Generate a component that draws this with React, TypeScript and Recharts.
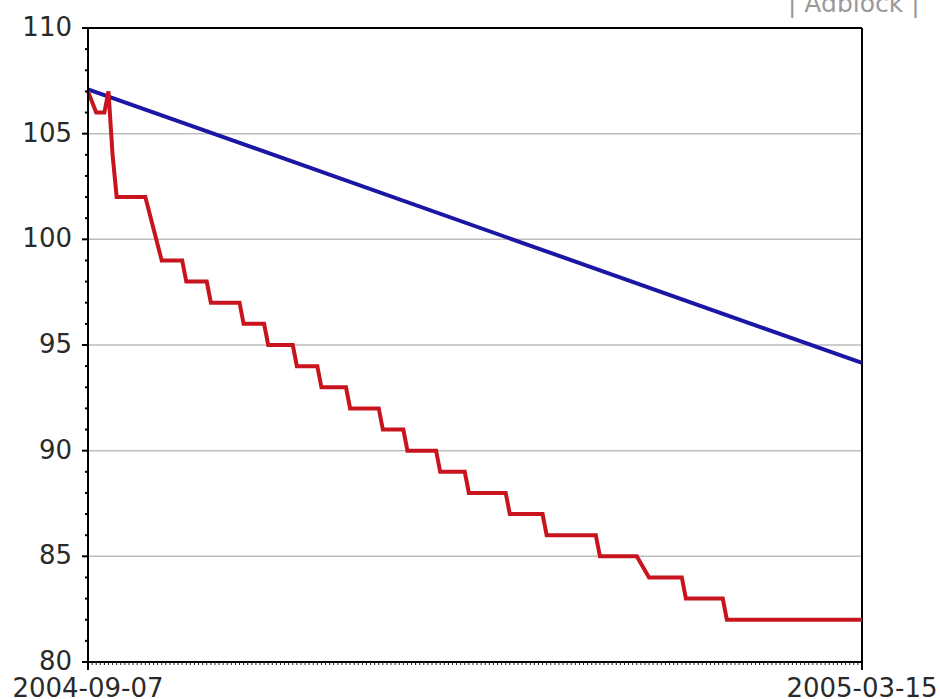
import { Line, LineChart, ReferenceLine, XAxis, YAxis } from "recharts";

const FONT = "'DejaVu Sans', Verdana, sans-serif";

// x axis is days since the first date
const dateLabels = ["2004-09-07", "2005-03-15"];
const lastDay = 189;

// red: stepped series (day, value) corners
const redDays = [
  0, 2, 4, 5, 6, 7, 14, 16, 18, 23, 24, 29, 30, 37, 38, 43, 44, 50, 51, 56, 57,
  63, 64, 71, 72, 77, 78, 85, 86, 92, 93, 102, 103, 111, 112, 124, 125, 134,
  137, 145, 146, 155, 156, 189,
];
const redValues = [
  107, 106, 106, 107, 104, 102, 102, 100.5, 99, 99, 98, 98, 97, 97, 96, 96, 95,
  95, 94, 94, 93, 93, 92, 92, 91, 91, 90, 90, 89, 89, 88, 88, 87, 87, 86, 86,
  85, 85, 84, 84, 83, 83, 82, 82,
];

// blue: straight trend line
const blueDays = [0, 189];
const blueValues = [107.1, 94.15];

const yTicks = Array.from({ length: 31 }, (_, i) => 80 + i);
const yLabelValues = [80, 85, 90, 95, 100, 105, 110];
const gridValues = [85, 90, 95, 100, 105];
const dayTicks = Array.from({ length: lastDay + 1 }, (_, i) => i);

const redData = redDays.map((day, i) => ({ day, value: redValues[i] }));
const blueData = blueDays.map((day, i) => ({ day, value: blueValues[i] }));

function DayTick(props: any) {
  const { x, y, payload } = props;
  const day = payload.value;
  if (day === 0 || day === lastDay) {
    return (
      <g>
        <line x1={x} x2={x} y1={y} y2={y + 8} stroke="#000" strokeWidth={2} />
        <text
          x={x}
          y={y + 35}
          textAnchor="middle"
          fontFamily={FONT}
          fontSize={26}
          fill="#2a2a2a"
        >
          {day === 0 ? dateLabels[0] : dateLabels[1]}
        </text>
      </g>
    );
  }
  return <line x1={x} x2={x} y1={y} y2={y + 3} stroke="#222" strokeWidth={1} />;
}

function ValueTick(props: any) {
  const { x, y, payload } = props;
  const value = payload.value;
  if (yLabelValues.includes(value)) {
    return (
      <g>
        <line x1={x - 6} x2={x} y1={y} y2={y} stroke="#000" strokeWidth={2} />
        <text
          x={x - 16}
          y={y + 8}
          textAnchor="end"
          fontFamily={FONT}
          fontSize={26}
          fill="#2a2a2a"
        >
          {value}
        </text>
      </g>
    );
  }
  return <line x1={x - 3} x2={x} y1={y} y2={y} stroke="#000" strokeWidth={2} />;
}

export default function App() {
  return (
    <div
      style={{
        position: "absolute",
        left: 0,
        top: 0,
        width: 940,
        height: 699,
        background: "#fff",
        overflow: "hidden",
      }}
    >
      <div
        style={{
          position: "absolute",
          left: 788,
          top: -9,
          fontFamily: FONT,
          fontSize: 25,
          lineHeight: "25px",
          color: "#9a9a9a",
          whiteSpace: "nowrap",
        }}
      >
        | Adblock |
      </div>
      <LineChart
        width={940}
        height={699}
        margin={{ top: 28, right: 78, bottom: 0, left: 0 }}
      >
        {gridValues.map((v) => (
          <ReferenceLine key={v} y={v} stroke="#bdbdbd" strokeWidth={1.5} />
        ))}
        <ReferenceLine y={110} stroke="#000" strokeWidth={2} />
        <ReferenceLine x={lastDay} stroke="#000" strokeWidth={2} />
        <XAxis
          dataKey="day"
          type="number"
          domain={[0, lastDay]}
          ticks={dayTicks}
          interval={0}
          height={37}
          tickSize={0}
          tickMargin={0}
          tickLine={false}
          axisLine={{ stroke: "#000", strokeWidth: 2 }}
          tick={<DayTick />}
          allowDuplicatedCategory={false}
        />
        <YAxis
          type="number"
          domain={[80, 110]}
          ticks={yTicks}
          interval={0}
          width={88}
          tickSize={0}
          tickMargin={0}
          tickLine={false}
          axisLine={{ stroke: "#000", strokeWidth: 2 }}
          tick={<ValueTick />}
        />
        <Line
          data={blueData}
          dataKey="value"
          type="linear"
          stroke="#1c16a4"
          strokeWidth={4}
          dot={false}
          isAnimationActive={false}
        />
        <Line
          data={redData}
          dataKey="value"
          type="linear"
          stroke="#c8141e"
          strokeWidth={4}
          strokeLinejoin="miter"
          dot={false}
          isAnimationActive={false}
        />
      </LineChart>
    </div>
  );
}
